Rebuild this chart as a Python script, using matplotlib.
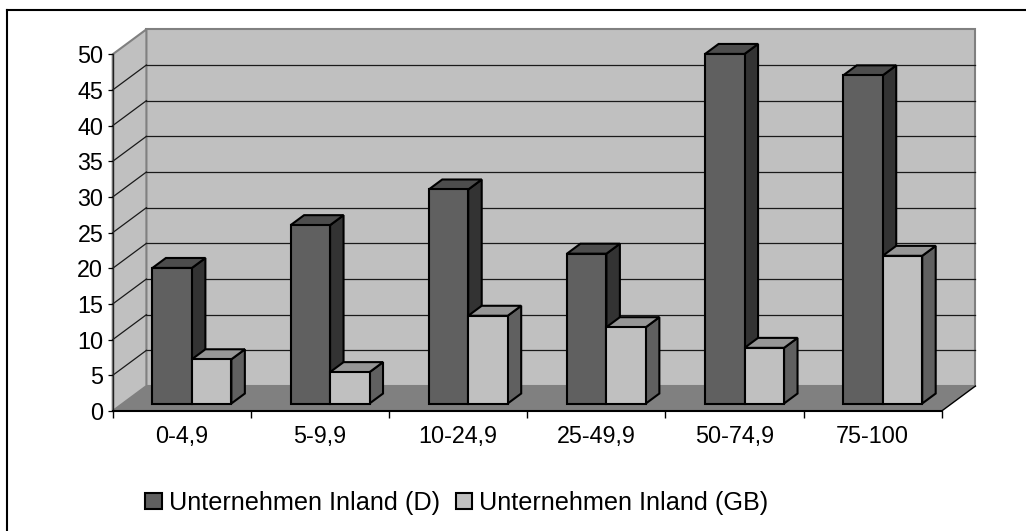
import matplotlib.pyplot as plt
from matplotlib.patches import Polygon, Patch
from matplotlib.lines import Line2D

plt.rcParams['font.family'] = ['Liberation Sans', 'DejaVu Sans']

categories = ['0-4,9', '5-9,9', '10-24,9', '25-49,9', '50-74,9', '75-100']
inland_d = [19, 25, 30, 21, 49, 46]
inland_gb = [6.2, 4.4, 12.3, 10.7, 7.8, 20.7]
series_names = ['Unternehmen Inland (D)', 'Unternehmen Inland (GB)']

# face colours of the columns: front, top, side
colors_d = ('#606060', '#4d4d4d', '#333333')
colors_gb = ('#c0c0c0', '#969696', '#606060')

W, H = 1026, 531
fig = plt.figure(figsize=(W / 100, H / 100), dpi=100)
ax = fig.add_axes([112.7 / W, (H - 411) / H, (941.7 - 112.7) / W, (411 - 54.3) / H])
ax.set_xlim(0, len(categories))
ax.set_ylim(0, 50)
ax.patch.set_visible(False)

# offset of the back plane in data units (x: categories, y: values)
DX, DY = 0.244, 3.5
n = len(categories)
ymax = 50


def proj(x, y, d):
    return (x + d * DX, y + d * DY)


def face(pts, color, z, ec='black', lw=1.5):
    ax.add_patch(Polygon(pts, closed=True, facecolor=color, edgecolor=ec,
                         lw=lw, joinstyle='miter', clip_on=False, zorder=z))


# walls and floor
face([proj(0, 0, 1), proj(n, 0, 1), proj(n, ymax, 1), proj(0, ymax, 1)],
     '#c0c0c0', 0.5, ec='#808080', lw=1.5)
face([proj(0, 0, 0), proj(0, 0, 1), proj(0, ymax, 1), proj(0, ymax, 0)],
     '#c0c0c0', 0.5, ec='#808080', lw=1.5)
face([proj(0, 0, 0), proj(n, 0, 0), proj(n, 0, 1), proj(0, 0, 1)],
     '#808080', 0.7, ec='none', lw=0)
ax.plot([n, n + DX], [0, DY], color='black', lw=1, clip_on=False, zorder=0.8)

# gridlines on the back and side walls
for t in range(5, ymax, 5):
    ax.plot([DX, n + DX], [t + DY, t + DY], color='#1a1a1a', lw=0.9,
            clip_on=False, zorder=0.6)
    ax.plot([0, DX], [t, t + DY], color='#1a1a1a', lw=0.9,
            clip_on=False, zorder=0.6)


def column(x0, x1, h, cols, d0=0.3, d1=0.7):
    front, top, side = cols
    face([proj(x1, 0, d0), proj(x1, 0, d1), proj(x1, h, d1), proj(x1, h, d0)], side, 2)
    face([proj(x0, h, d0), proj(x1, h, d0), proj(x1, h, d1), proj(x0, h, d1)], top, 2)
    face([proj(x0, 0, d0), proj(x1, 0, d0), proj(x1, h, d0), proj(x0, h, d0)], front, 2)


bw = 1 / 3.5  # gap width 150 %
for i in range(n):
    left = i + (1 - 2 * bw) / 2
    column(left, left + bw, inland_d[i], colors_d)
    column(left + bw, left + 2 * bw, inland_gb[i], colors_gb)

# axes
for s in ['top', 'right']:
    ax.spines[s].set_visible(False)
ax.spines['left'].set_color('#202020')
ax.spines['left'].set_linewidth(1)
ax.spines['bottom'].set_color('black')
ax.spines['bottom'].set_linewidth(1.5)

ax.set_yticks(range(0, ymax + 1, 5))
ax.tick_params(axis='y', length=3.6, width=0.9, labelsize=16.8, pad=3.2)
ax.set_xticks(range(n + 1))
ax.set_xticklabels([])
ax.set_xticks([i + 0.5 for i in range(n)], minor=True)
ax.set_xticklabels(categories, minor=True)
ax.tick_params(axis='x', which='major', length=5, width=1)
ax.tick_params(axis='x', which='minor', length=0, labelsize=16.8, pad=10.2)

# legend
handles = [Patch(facecolor=colors_d[0], edgecolor='black', lw=1.5),
           Patch(facecolor=colors_gb[0], edgecolor='black', lw=1.5)]
fig.legend(handles, series_names, loc='center',
           bbox_to_anchor=(457 / W, (H - 503) / H), ncol=2, frameon=False,
           fontsize=18.2, handlelength=0.64, handleheight=0.64,
           handletextpad=0.3, columnspacing=0.6)

# chart area border
fig.add_artist(Line2D([6.5 / W, 1], [1 - 9.5 / H, 1 - 9.5 / H], color='black',
                      lw=1.5, transform=fig.transFigure))
fig.add_artist(Line2D([6.5 / W, 6.5 / W], [0, 1 - 9.5 / H], color='black',
                      lw=1.5, transform=fig.transFigure))

fig.savefig('out.png', dpi=100)
